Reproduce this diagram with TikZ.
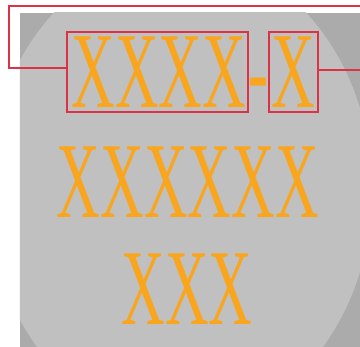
\documentclass[tikz,border=0pt]{standalone}
\usepackage{graphicx}
\usepackage{fontspec}
\setmainfont{Liberation Serif}
\definecolor{redln}{HTML}{DC3246}
\definecolor{orng}{HTML}{F9A61E}
\definecolor{bglight}{HTML}{C0C0C0}
\definecolor{bgdark}{HTML}{ABABAB}
\tikzset{
  redbox/.style={draw=redln, line width=1.4pt, inner sep=0pt},
  redline/.style={draw=redln, line width=1.4pt},
  bigtext/.style={text=orng, inner sep=0pt, anchor=base, font=\fontsize{108}{108}\selectfont},
}
\newcommand{\sq}[1]{\scalebox{0.56}[1]{#1}}
\begin{document}
\begin{tikzpicture}[x=1pt,y=-1pt]
\useasboundingbox (0,0) rectangle (360,347);
\fill[white] (0,0) rectangle (360,347);
% gray panel with lighter center
\begin{scope}
\clip (20,13) rectangle (360,347);
\fill[bgdark] (20,13) rectangle (360,347);
\fill[bglight] (180,190) ellipse [x radius=192, y radius=235];
\end{scope}
% boxes
\node[redbox, minimum width=181pt, minimum height=80pt] (box1) at (157.5,72) {};
\node[redbox, minimum width=49pt, minimum height=80pt] (box2) at (293.5,72) {};
% texts
\node[bigtext] (t1) at (159,108) {\sq{XXXX}};
\node[bigtext] (dash) at (259,108) {\sq{-}};
\node[bigtext] (t2) at (293.5,108) {\sq{X}};
\node[bigtext] (t3) at (188,218) {\sq{XXXXXX}};
\node[bigtext] (t4) at (187,325) {\sq{XXX}};
% connectors
\coordinate (tr) at (360,6);
\coordinate (tl) at (9,6);
\coordinate (bl) at (9,68);
\coordinate (re) at (360,70);
\draw[redline] (tr) -- (tl) -- (bl) -- (bl -| box1.west);
\draw[redline] (box2.east |- re) -- (re);
\end{tikzpicture}
\end{document}
